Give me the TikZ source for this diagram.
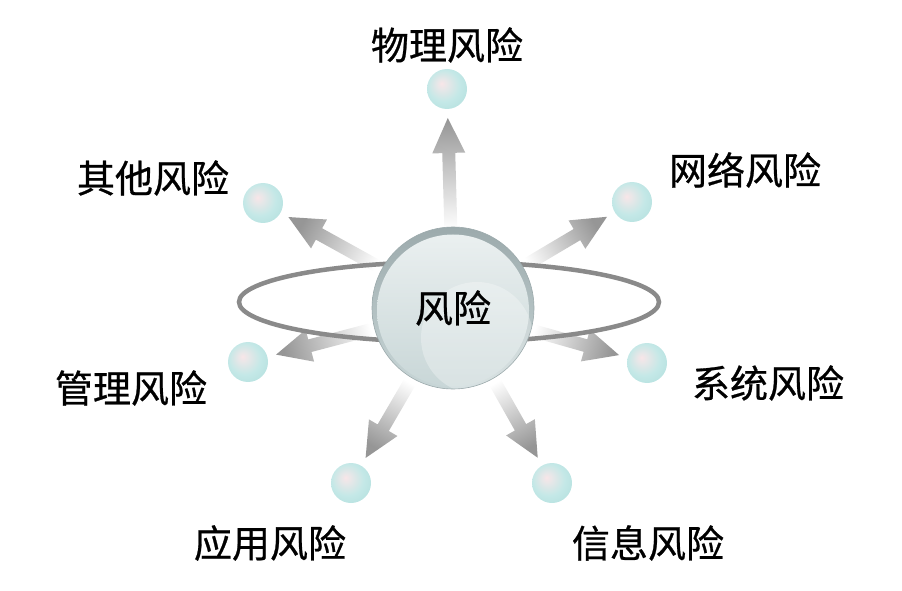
\documentclass[tikz,border=0pt]{standalone}
\usepackage{fontspec}
\setmainfont{Noto Sans CJK SC}[FakeBold=0.7]
\usetikzlibrary{calc,positioning,backgrounds}
\definecolor{ringgray}{RGB}{138,138,138}
\definecolor{arrowgray}{RGB}{150,150,150}
\definecolor{ballin}{RGB}{248,230,232}
\definecolor{ballmid}{RGB}{196,232,231}
\definecolor{ballout}{RGB}{136,202,198}
\definecolor{globerim}{RGB}{156,170,172}
\definecolor{globein}{RGB}{236,241,241}
\definecolor{globelow}{RGB}{200,214,215}
\pgfdeclareradialshading{smallball}{\pgfpoint{-7bp}{7bp}}{%
  color(0bp)=(ballin); color(20bp)=(ballmid); color(44bp)=(ballmid!55!ballout); color(50bp)=(ballout)}
\newcommand\riskarrow[1]{%
  \pgfmathanglebetweenpoints{\pgfpointanchor{risk}{center}}{\pgfpointanchor{#1}{center}}%
  \pgfmathsetmacro\arrowang{\pgfmathresult+90}%
  \coordinate (tail) at ($(risk.center)!78pt!(#1.center)$);
  \coordinate (tip) at ($(#1.center)!29pt!(risk.center)$);
  \coordinate (neck) at ($(tip)!35pt!(tail)$);
  \shade[top color=white, middle color=arrowgray!30, bottom color=arrowgray, shading angle=\arrowang]
    ($(tail)!6.5pt!90:(tip)$) -- ($(neck)!6.5pt!90:(tip)$) -- ($(neck)!16.5pt!90:(tip)$) -- (tip)
    -- ($(neck)!16.5pt!-90:(tip)$) -- ($(neck)!6.5pt!-90:(tip)$) -- ($(tail)!6.5pt!-90:(tip)$) -- cycle;
}

\begin{document}
\begin{tikzpicture}[x=1pt,y=1pt,
    lbl/.style={font=\fontsize{38}{40}\selectfont, inner sep=0pt},
    ball/.style={circle, minimum size=40pt, inner sep=0pt, shade, shading=smallball},
    ring/.style={draw=ringgray, line width=4.5pt},
    globe/.style={circle, minimum size=162pt, inner sep=0pt, draw=globerim, line width=0.6pt,
      top color=globerim, bottom color=globelow,
      path picture={
        \shade[top color=globein, bottom color=globelow] ($(path picture bounding box.center)+(0,-2.5)$) circle (76pt);
        \fill[white, opacity=0.3] ($(path picture bounding box.center)+(24,-30)$) circle (56pt);
      }}]
  \useasboundingbox (0,0) rectangle (902,590);
  \node[globe, lbl] (risk) at (453,282) {风险};
  \node[ball] (phys) at (447,501) {};
  \node[ball] (net) at (632,388) {};
  \node[ball] (sys) at (647,227) {};
  \node[ball] (info) at (552,107) {};
  \node[ball] (app) at (351,107) {};
  \node[ball] (mgmt) at (248,228) {};
  \node[ball] (other) at (263,387) {};
  \node[lbl] (physlbl) at (447,545) {物理风险};
  \node[lbl] (netlbl) at (745,420) {网络风险};
  \node[lbl] (syslbl) at (768,207) {系统风险};
  \node[lbl] (infolbl) at (648,47) {信息风险};
  \node[lbl] (applbl) at (270,47) {应用风险};
  \node[lbl] (mgmtlbl) at (131,202) {管理风险};
  \node[lbl] (otherlbl) at (153,412) {其他风险};
  \begin{pgfonlayer}{background}
    \foreach \b in {phys,net,sys,info,app,mgmt,other} {\riskarrow{\b}}
    \coordinate (ringc) at ($(risk.center)+(-4,6)$);
    \draw[ring] (ringc) ellipse [x radius=210, y radius=40];
  \end{pgfonlayer}
\end{tikzpicture}
\end{document}
